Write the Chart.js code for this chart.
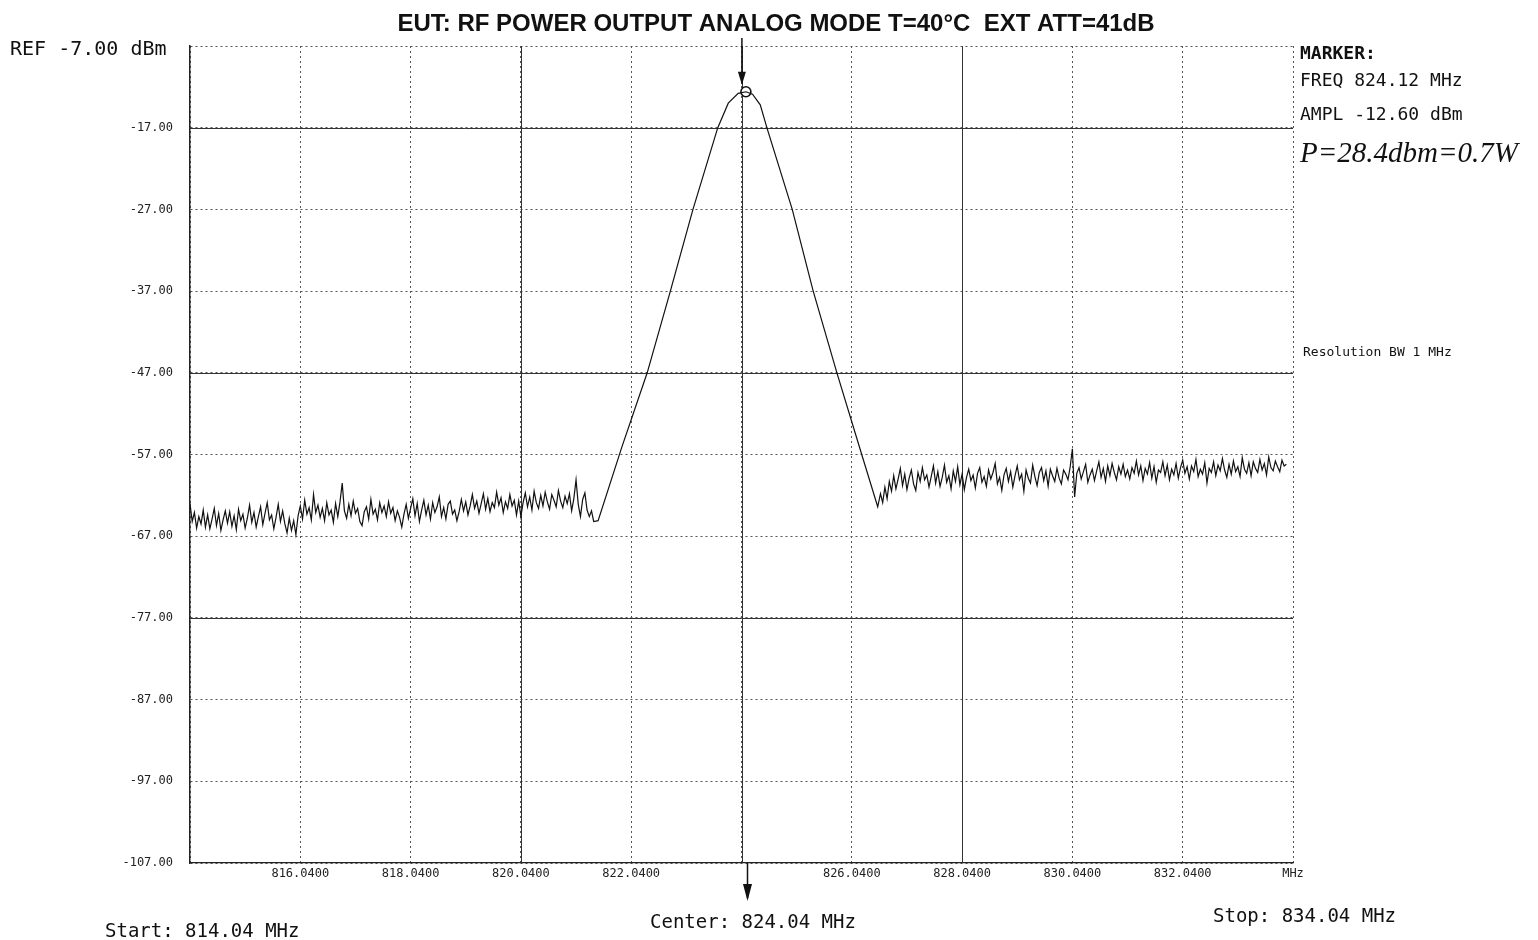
<!DOCTYPE html>
<html>
<head>
<meta charset="utf-8">
<title>RF power output</title>
<script src="https://cdn.jsdelivr.net/npm/chart.js@4.4.1/dist/chart.umd.min.js"></script>
<style>
  html, body { margin: 0; padding: 0; background: #fff; }
  #wrap { width: 1538px; height: 940px; }
</style>
</head>
<body>
<div id="wrap"><canvas id="chart" width="1538" height="940"></canvas></div>
<script>
// sweep: noise floor below the carrier, sampled every 0.04 MHz
const lowStart = 814.04;
const lowStep = 0.04;
const lowNoise = [
  -63.0, -65.2, -64.1, -66.0, -64.6, -65.5, -63.8, -65.9, -64.4, -66.1,
  -64.9, -63.6, -65.7, -64.2, -66.3, -65.0, -63.9, -65.4, -64.0, -65.8,
  -64.5, -66.2, -63.7, -65.1, -64.3, -66.0, -64.8, -63.2, -65.3, -64.1,
  -65.9, -64.6, -63.4, -65.6, -64.2, -62.9, -65.0, -64.4, -66.1, -64.7,
  -63.1, -65.2, -63.9, -65.5, -66.6, -64.8, -66.3, -65.1, -66.8, -64.5,
  -63.3, -64.9, -62.6, -64.3, -63.5, -65.0, -61.9, -64.1, -63.2, -64.7,
  -63.6, -65.1, -62.9, -64.4, -63.8, -65.3, -63.0, -64.6, -62.8, -60.5,
  -63.9, -64.8, -63.1, -64.5, -62.7, -64.2, -63.6, -65.2, -65.7, -64.0,
  -63.4, -64.9, -62.5, -64.3, -63.7, -65.0, -62.9, -64.1, -63.3, -64.6,
  -62.8, -64.2, -63.5, -65.1, -63.9, -64.7, -65.9, -64.3, -63.1, -64.8,
  -63.6, -62.4, -64.5, -63.0, -65.2, -63.8, -62.6, -64.4, -63.2, -64.9,
  -62.9, -64.1, -63.4, -62.2, -64.6, -63.5, -64.9, -63.1, -62.7, -64.3,
  -63.8, -65.1, -64.0, -62.5, -63.9, -62.8, -64.4, -63.3, -61.9, -63.6,
  -62.7, -64.2, -63.0, -61.8, -63.7, -62.4, -64.0, -62.9, -63.5, -61.6,
  -63.2, -62.3, -64.1, -62.8, -63.6, -61.9, -63.3, -62.6, -64.4, -62.7,
  -64.6, -62.9, -61.7, -63.4, -62.2, -63.8, -61.5, -62.9, -63.6, -62.0,
  -63.3, -61.6, -62.8, -63.7, -61.9, -62.6, -63.4, -61.4, -62.7, -63.5,
  -62.1, -63.0, -61.8, -63.9, -62.4, -60.1, -63.1, -64.6, -62.5, -61.7,
  -63.8, -64.6, -63.9, -65.2
];

// carrier response
const peakFreq = [821.44, 821.87, 822.33, 822.75, 823.16, 823.61, 823.80, 823.98, 824.12,
                  824.24, 824.38, 824.50, 824.96, 825.34, 825.77, 826.22, 826.51];
const peakLevel = [-65.1, -56.1, -47.0, -37.0, -27.0, -17.0, -14.0, -12.8, -12.6,
                   -12.9, -14.2, -17.0, -27.0, -37.0, -47.0, -57.0, -63.4];

// noise floor above the carrier
const highStart = 826.56;
const highStep = 0.04;
const highNoise = [
  -61.8, -62.9, -61.0, -62.4, -60.3, -61.5, -59.6, -61.2, -60.0, -58.7,
  -60.8, -59.4, -61.3, -59.9, -58.9, -60.6, -61.4, -59.2, -60.3, -58.6,
  -60.1, -59.5, -61.0, -59.7, -58.4, -60.5, -59.1, -60.9, -59.8, -58.3,
  -60.4, -59.6, -61.2, -59.0, -60.3, -58.5, -60.7, -59.4, -61.3, -59.8,
  -58.8, -60.2, -59.5, -61.1, -59.3, -58.6, -60.4, -59.7, -60.9, -58.9,
  -60.0, -59.2, -58.1, -60.6, -59.8, -61.4, -59.5, -58.7, -60.3, -59.1,
  -61.0, -59.6, -58.4, -60.1, -59.4, -61.5, -58.9, -59.9, -60.5, -58.3,
  -59.7, -60.8, -59.2, -58.6, -60.2, -59.0, -60.9, -58.8, -59.6, -60.3,
  -58.7, -59.9, -60.6, -58.9, -59.4, -60.1, -58.5, -56.3, -62.2, -59.3,
  -58.6, -60.0, -59.1, -58.2, -60.4, -59.5, -58.8, -60.2, -59.0, -57.9,
  -59.8, -58.7, -60.3, -58.4, -59.6, -58.1, -59.2, -60.1, -58.5, -59.4,
  -58.2, -59.7, -58.9, -60.0, -58.6, -59.3, -57.8, -59.5, -58.4, -60.2,
  -58.7, -59.4, -58.0, -59.9, -58.5, -60.4, -58.9, -59.2, -57.9, -59.6,
  -58.3, -60.1, -58.8, -59.5, -58.1, -59.9, -58.6, -57.7, -59.3, -58.5,
  -60.0, -58.4, -59.1, -57.6, -59.7, -58.8, -59.4, -58.0, -60.5, -58.7,
  -59.2, -57.9, -59.6, -58.3, -59.0, -57.5, -58.9, -59.8, -58.2, -59.4,
  -57.8, -59.1, -58.5, -59.7, -57.4, -58.8, -59.3, -58.0, -59.6, -57.9,
  -58.7, -59.2, -57.6, -58.9, -58.1, -59.5, -57.3, -58.6, -59.0, -57.8,
  -58.5, -59.1, -57.7, -58.4, -58.2
];

const markerFreq = 824.12;
const markerLevel = -12.6;
const centerFreq = 824.04;

const xTicks = [814.04, 816.04, 818.04, 820.04, 822.04, 824.04, 826.04, 828.04, 830.04, 832.04, 834.04];
const xTickLabels = ['', '816.0400', '818.0400', '820.0400', '822.0400', '', '826.0400', '828.0400', '830.0400', '832.0400', 'MHz'];
const yTicks = [-107, -97, -87, -77, -67, -57, -47, -37, -27, -17, -7];

// grid lines that print solid instead of dotted
const solidLevels = [-17, -47, -77];
const solidFreqs = [820.04, 824.04, 828.04];

const trace = [];
lowNoise.forEach((v, i) => trace.push({ x: +(lowStart + i * lowStep).toFixed(2), y: v }));
peakFreq.forEach((f, i) => trace.push({ x: f, y: peakLevel[i] }));
highNoise.forEach((v, i) => trace.push({ x: +(highStart + i * highStep).toFixed(2), y: v }));

const MONO = '"DejaVu Sans Mono", monospace';

const decor = {
  id: 'decor',
  beforeDatasetsDraw(chart) {
    const { ctx, chartArea: a, scales: { x, y } } = chart;
    ctx.save();
    ctx.strokeStyle = '#333';
    ctx.lineWidth = 1;
    solidLevels.forEach(v => {
      const py = Math.round(y.getPixelForValue(v)) + 0.5;
      ctx.beginPath(); ctx.moveTo(a.left, py); ctx.lineTo(a.right, py); ctx.stroke();
    });
    solidFreqs.forEach(f => {
      const px = Math.round(x.getPixelForValue(f)) + 0.5;
      ctx.beginPath(); ctx.moveTo(px, a.top); ctx.lineTo(px, a.bottom); ctx.stroke();
    });
    ctx.restore();
  },
  afterDraw(chart) {
    const { ctx, chartArea: a, scales: { x, y } } = chart;
    ctx.save();
    ctx.fillStyle = '#111';
    ctx.strokeStyle = '#111';

    // title
    ctx.font = 'bold 24px "Liberation Sans", Arial, sans-serif';
    ctx.textAlign = 'center';
    ctx.textBaseline = 'alphabetic';
    ctx.fillText('EUT: RF POWER OUTPUT ANALOG MODE T=40\u00B0C  EXT ATT=41dB', 776, 31);

    ctx.textAlign = 'left';
    ctx.font = '20px ' + MONO;
    ctx.fillText('REF -7.00 dBm', 10, 55);

    // marker readout
    ctx.font = 'bold 18px ' + MONO;
    ctx.fillText('MARKER:', 1300, 59);
    ctx.font = '18px ' + MONO;
    ctx.fillText('FREQ 824.12 MHz', 1300, 86);
    ctx.fillText('AMPL -12.60 dBm', 1300, 120);
    ctx.font = 'italic 29px "Liberation Serif", serif';
    ctx.fillText('P=28.4dbm=0.7W', 1300, 162);

    ctx.font = '13px ' + MONO;
    ctx.fillText('Resolution BW 1 MHz', 1303, 356);

    ctx.font = '19px ' + MONO;
    ctx.fillText('Start: 814.04 MHz', 105, 937);
    ctx.fillText('Center: 824.04 MHz', 650, 928);
    ctx.fillText('Stop: 834.04 MHz', 1213, 922);

    // marker arrow (top) and center arrow (bottom)
    const mx = x.getPixelForValue(markerFreq) - 4;
    const my = y.getPixelForValue(markerLevel);
    ctx.lineWidth = 1.5;
    ctx.beginPath(); ctx.moveTo(mx, 38); ctx.lineTo(mx, my - 8); ctx.stroke();
    ctx.beginPath(); ctx.moveTo(mx - 4, my - 20); ctx.lineTo(mx + 4, my - 20); ctx.lineTo(mx, my - 7); ctx.closePath(); ctx.fill();

    const cx = x.getPixelForValue(centerFreq) + 6;
    ctx.beginPath(); ctx.moveTo(cx, a.bottom); ctx.lineTo(cx, 898); ctx.stroke();
    ctx.beginPath(); ctx.moveTo(cx - 4.5, 884); ctx.lineTo(cx + 4.5, 884); ctx.lineTo(cx, 901); ctx.closePath(); ctx.fill();
    ctx.restore();
  }
};

new Chart(document.getElementById('chart'), {
  type: 'scatter',
  data: {
    datasets: [
      {
        data: trace,
        showLine: true,
        borderColor: '#111',
        borderWidth: 1.2,
        pointRadius: 0,
        tension: 0
      },
      {
        data: [{ x: markerFreq, y: markerLevel }],
        pointRadius: 5,
        pointBorderWidth: 1.6,
        pointBorderColor: '#111',
        pointBackgroundColor: '#fff'
      }
    ]
  },
  options: {
    responsive: false,
    animation: false,
    devicePixelRatio: 1,
    layout: { padding: { top: 46, right: 245, left: 0, bottom: 0 } },
    plugins: { legend: { display: false }, tooltip: { enabled: false } },
    scales: {
      x: {
        type: 'linear',
        min: 814.04,
        max: 834.04,
        afterBuildTicks: s => { s.ticks = xTicks.map(v => ({ value: v })); },
        afterFit: s => { s.height = 77; },
        grid: { color: '#555', lineWidth: 1, drawTicks: false },
        border: { display: true, color: '#222', width: 1.2, dash: [2, 3] },
        ticks: {
          padding: 4,
          maxRotation: 0,
          autoSkip: false,
          color: '#222',
          font: { family: MONO, size: 12 },
          callback: (v, i) => xTickLabels[i]
        }
      },
      y: {
        min: -107,
        max: -7,
        afterBuildTicks: s => { s.ticks = yTicks.map(v => ({ value: v })); },
        afterFit: s => { s.width = 190; },
        grid: { color: '#555', lineWidth: 1, drawTicks: false },
        border: { display: true, color: '#222', width: 1.5, dash: [2, 3] },
        ticks: {
          padding: 17,
          color: '#222',
          font: { family: MONO, size: 12 },
          callback: v => (v === -7 ? '' : v.toFixed(2))
        }
      }
    }
  },
  plugins: [decor]
});
</script>
</body>
</html>
